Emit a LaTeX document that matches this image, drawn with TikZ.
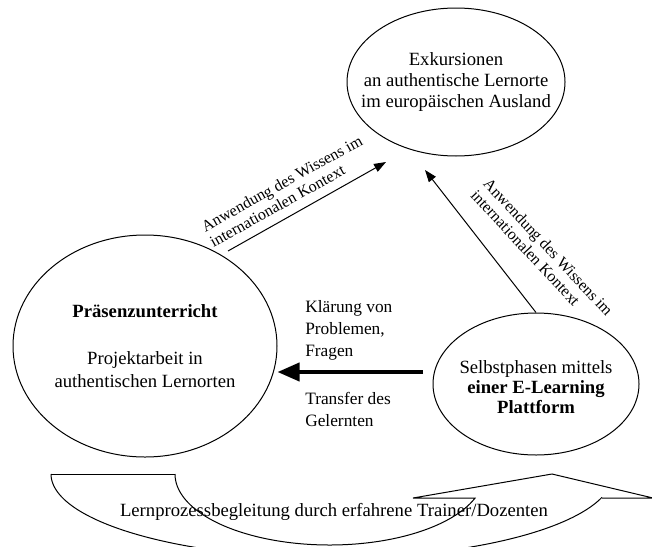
\documentclass[tikz,border=0pt]{standalone}
\usepackage{fontspec}
\setmainfont{Liberation Serif}
\usetikzlibrary{shapes.geometric,arrows.meta}
\begin{document}
\begin{tikzpicture}[x=0.75pt,y=-0.75pt,
  ell/.style={draw, line width=0.75pt, ellipse, inner sep=0pt},
  etxt/.style={align=center, inner sep=0pt, font=\fontsize{14}{16}\selectfont},
  thinarrow/.style={line width=0.75pt, -{Triangle[length=9pt,width=6.5pt]}},
  bigarrow/.style={line width=3pt, -{Triangle[length=16.5pt,width=13.5pt]}},
  rlabel/.style={align=left, inner sep=0pt, font=\fontsize{12}{13}\selectfont},
  hlabel/.style={align=left, inner sep=0pt, anchor=west, font=\fontsize{13}{16.5}\selectfont},
  band/.style={line width=0.75pt, line join=miter}
]
\useasboundingbox (0,0) rectangle (652,546);

% ellipses
\node[ell, minimum width=163.5pt, minimum height=111pt] (exk) at (456,82) {};
\node[etxt] (exkt) at (exk.center) {Exkursionen\\an authentische Lernorte\\im europäischen Ausland};

\node[ell, minimum width=198pt, minimum height=166.5pt] (praes) at (145,346) {};
\node[etxt, font=\fontsize{14}{17}\selectfont] (praest) at (praes.center)
  {\textbf{Präsenzunterricht}\\[18.5pt]Projektarbeit in\\authentischen Lernorten};

\node[ell, minimum width=154.5pt, minimum height=106.5pt] (selbst) at (536,384) {};
\node[etxt, font=\fontsize{14}{15}\selectfont] (selbstt) at ([yshift=-2pt]selbst.center)
  {Selbstphasen mittels\\\textbf{einer E-Learning}\\\textbf{Plattform}};

% connectors
\coordinate (a1s) at (228,251);
\coordinate (a1t) at (386,162);
\draw[thinarrow] (a1s) -- (a1t);

\coordinate (a2t) at (425,170);
\draw[thinarrow] (selbst.north) -- (a2t);

\coordinate (a3s) at (423,372);
\draw[bigarrow] (a3s) -- (a3s -| praes.east);

% connector labels
\node[rlabel, rotate=29] (l1) at (286,191)
  {Anwendung des Wissens im\\internationalen Kontext};
\node[rlabel, rotate=-47] (l2) at (542,253)
  {Anwendung des Wissens im\\internationalen Kontext};
\node[hlabel] (l3) at (305,330) {Klärung von\\Problemen,\\Fragen};
\node[hlabel] (l4) at (305,409) {Transfer des\\Gelernten};

% curved arrow at the bottom
\begin{scope}
\clip (0,0) rectangle (652,546);
\draw[band] (51,474) -- (175,474);
\draw[band] plot[domain=180:19.9, samples=90, smooth] ({329.6+154.6*cos(\x)},{474+71*sin(\x)})
  -- (413,498) -- (552,474) -- (653,498) -- (602,498);
\draw[band] plot[domain=16.1:180, samples=120, smooth] ({332+281*cos(\x)},{474+84*sin(\x)});
\end{scope}
\node[inner sep=0pt, font=\fontsize{14}{16}\selectfont] (lern) at (334,512)
  {Lernprozessbegleitung durch erfahrene Trainer/Dozenten};
\end{tikzpicture}
\end{document}
